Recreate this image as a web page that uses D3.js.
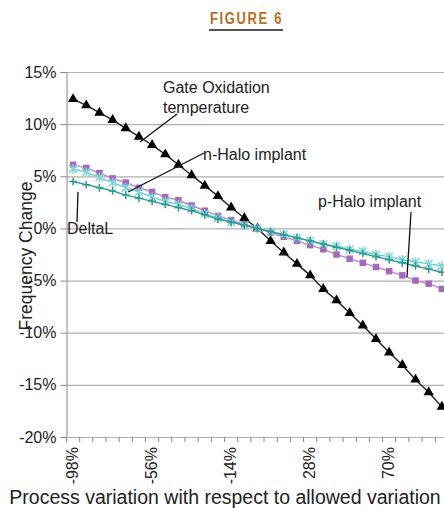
<!DOCTYPE html>
<html>
<head>
<meta charset="utf-8">
<script src="https://cdn.jsdelivr.net/npm/d3@7"></script>
<style>
  body { margin: 0; background: #fff; }
  svg { display: block; font-family: "Liberation Sans", Arial, sans-serif; }
</style>
</head>
<body>
<svg id="chart" width="444" height="508"></svg>
<script>
// process variation categories (% of allowed variation)
const categories = [-98, -91, -84, -77, -70, -63, -56, -49, -42, -35, -28, -21, -14, -7, 0,
  7, 14, 21, 28, 35, 42, 49, 56, 63, 70, 77, 84, 91, 98];
const xLabels = [-98, -56, -14, 28, 70];
const yTicks = [-20, -15, -10, -5, 0, 5, 10, 15];

// frequency change, %
const gateOxidation = [12.4, 11.8, 11.1, 10.4, 9.6, 8.8, 8.0, 7.1, 6.1, 5.1, 4.1, 3.1, 2.0, 1.0, 0.0,
  -1.2, -2.3, -3.4, -4.5, -5.8, -6.9, -8.1, -9.3, -10.6, -11.9, -13.1, -14.5, -15.7, -17.1];
const pHalo = [6.1, 5.8, 5.3, 4.8, 4.4, 3.9, 3.5, 3.0, 2.7, 2.2, 1.7, 1.2, 0.8, 0.4, 0.0,
  -0.4, -0.8, -1.2, -1.6, -2.0, -2.5, -2.9, -3.3, -3.7, -4.1, -4.5, -5.0, -5.3, -5.8];
const nHalo = [5.7, 5.4, 4.9, 4.4, 3.9, 3.5, 3.0, 2.6, 2.3, 1.9, 1.4, 1.0, 0.6, 0.3, 0.0,
  -0.3, -0.6, -0.9, -1.2, -1.5, -1.7, -2.0, -2.2, -2.5, -2.7, -3.0, -3.2, -3.4, -3.6];
const deltaL = [4.5, 4.2, 3.9, 3.6, 3.2, 2.9, 2.6, 2.3, 2.0, 1.7, 1.3, 0.9, 0.6, 0.3, 0.0,
  -0.3, -0.6, -0.9, -1.2, -1.5, -1.8, -2.1, -2.4, -2.7, -3.0, -3.3, -3.6, -3.9, -4.2];

const svg = d3.select('#chart');
const plotLeft = 66.5, plotTop = 72, plotBottom = 437;
const bw = 13.17;

const x = d3.scaleBand().domain(categories).range([plotLeft, plotLeft + bw * categories.length]);
const y = d3.scaleLinear().domain([-20, 15]).range([plotBottom, plotTop]);
const cx = c => x(c) + x.bandwidth() / 2;

// title (condensed look via textLength)
svg.append('text')
  .attr('x', 210).attr('y', 24)
  .attr('textLength', 73)
  .attr('lengthAdjust', 'spacingAndGlyphs')
  .style('font-weight', 'bold')
  .style('font-size', '16px')
  .style('letter-spacing', '2px')
  .style('white-space', 'pre')
  .attr('fill', '#bb6d22')
  .text('FIGURE 6');
svg.append('rect').attr('x', 209).attr('y', 29).attr('width', 74).attr('height', 2).attr('fill', '#555');

// gridlines
svg.append('g').selectAll('line')
  .data(yTicks)
  .join('line')
  .attr('x1', plotLeft).attr('x2', 444)
  .attr('y1', d => y(d) + 0.5).attr('y2', d => y(d) + 0.5)
  .attr('stroke', '#b0b0b0').attr('stroke-width', 1.2);

// y axis
const yAxis = svg.append('g')
  .attr('transform', `translate(${plotLeft},0)`)
  .call(d3.axisLeft(y).tickValues(yTicks).tickSize(6).tickPadding(4).tickFormat(d => d + '%'));
yAxis.select('.domain').attr('stroke', '#888');
yAxis.selectAll('.tick line').attr('stroke', '#888');
yAxis.selectAll('.tick text')
  .style('font-size', '16px')
  .style('font-family', '"Liberation Sans", Arial, sans-serif')
  .attr('fill', '#222');

// x axis ticks at band edges
const xEdges = categories.map(c => x(c)).concat([x(categories[categories.length - 1]) + x.bandwidth()]);
svg.append('g').selectAll('line')
  .data(xEdges)
  .join('line')
  .attr('x1', d => d).attr('x2', d => d)
  .attr('y1', plotBottom).attr('y2', plotBottom + 5)
  .attr('stroke', '#888');

svg.append('g').selectAll('text')
  .data(xLabels)
  .join('text')
  .attr('transform', d => `translate(${cx(d) + 5},${plotBottom + 10}) rotate(-90)`)
  .attr('text-anchor', 'end')
  .style('font-size', '16px')
  .attr('fill', '#222')
  .text(d => d + '%');

// axis titles
svg.append('text')
  .attr('transform', 'translate(32,256) rotate(-90)')
  .attr('text-anchor', 'middle')
  .style('font-size', '17.5px')
  .attr('fill', '#222')
  .text('Frequency Change');

svg.append('text')
  .attr('x', 225).attr('y', 504)
  .attr('text-anchor', 'middle')
  .style('font-size', '19.5px')
  .attr('fill', '#222')
  .text('Process variation with respect to allowed variation');

// series
const series = [
  { name: 'gate', values: gateOxidation, line: '#222', fill: '#000', marker: 'triangle', size: 46 },
  { name: 'pHalo', values: pHalo, line: '#b48bcc', fill: '#a668bd', marker: 'square', size: 42 },
  { name: 'nHalo', values: nHalo, line: '#6fd0d0', fill: '#7fd8d8', marker: 'asterisk', size: 60 },
  { name: 'deltaL', values: deltaL, line: '#2b9b92', fill: '#2b9b92', marker: 'cross', size: 60 }
];

const lineGen = d3.line().x((d, i) => cx(categories[i])).y(d => y(d));

const asterisk = {
  draw(ctx, size) {
    const r = Math.sqrt(size) / 2;
    ctx.moveTo(-r, -r); ctx.lineTo(r, r);
    ctx.moveTo(-r, r); ctx.lineTo(r, -r);
    ctx.moveTo(0, -r * 1.2); ctx.lineTo(0, r * 1.2);
  }
};
const plus = {
  draw(ctx, size) {
    const r = Math.sqrt(size) / 2;
    ctx.moveTo(-r, 0); ctx.lineTo(r, 0);
    ctx.moveTo(0, -r); ctx.lineTo(0, r);
  }
};

series.forEach(s => {
  const g = svg.append('g').attr('class', 'series-' + s.name);
  g.append('path')
    .attr('d', lineGen(s.values))
    .attr('fill', 'none')
    .attr('stroke', s.line)
    .attr('stroke-width', 1.4);

  const pts = g.selectAll('path.m')
    .data(s.values)
    .join('path')
    .attr('class', 'm')
    .attr('transform', (d, i) => `translate(${cx(categories[i])},${y(d)})`);

  if (s.marker === 'triangle') {
    pts.attr('d', d3.symbol(d3.symbolTriangle, s.size)).attr('fill', s.fill);
  } else if (s.marker === 'square') {
    pts.attr('d', d3.symbol(d3.symbolSquare, s.size)).attr('fill', s.fill);
  } else if (s.marker === 'asterisk') {
    pts.attr('d', d3.symbol(asterisk, s.size)).attr('fill', 'none')
      .attr('stroke', s.fill).attr('stroke-width', 1.5);
  } else {
    pts.attr('d', d3.symbol(plus, s.size)).attr('fill', 'none')
      .attr('stroke', s.fill).attr('stroke-width', 1.5);
  }
});

// annotations
const notes = [
  { lines: ['Gate Oxidation', 'temperature'], x: 163, y: 93, from: [177, 114], to: [140, 142] },
  { lines: ['n-Halo implant'], x: 203, y: 160, from: [204, 153], to: [128, 192] },
  { lines: ['p-Halo implant'], x: 318, y: 207, from: [411, 212], to: [407, 277] },
  { lines: ['DeltaL'], x: 67, y: 234, from: [78, 192], to: [77, 222] }
];

const ann = svg.append('g');
notes.forEach(n => {
  ann.append('line')
    .attr('x1', n.from[0]).attr('y1', n.from[1])
    .attr('x2', n.to[0]).attr('y2', n.to[1])
    .attr('stroke', '#111').attr('stroke-width', 1.3);
  n.lines.forEach((t, i) => {
    ann.append('text')
      .attr('x', n.x).attr('y', n.y + i * 20)
      .style('font-size', '16px')
      .attr('fill', '#222')
      .text(t);
  });
});
</script>
</body>
</html>
